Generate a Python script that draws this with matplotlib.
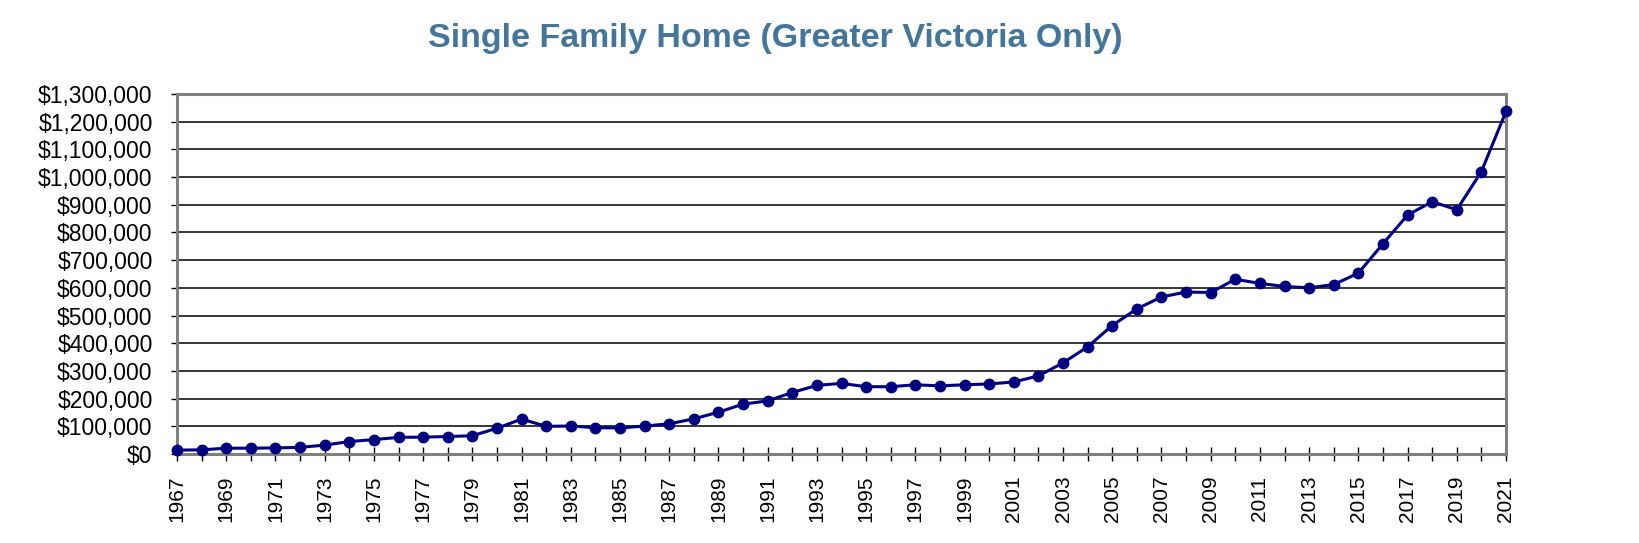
import matplotlib; matplotlib.use("Agg")
import matplotlib.pyplot as plt
from matplotlib.ticker import FuncFormatter

# datos (precio medio, vivienda unifamiliar)
YEARS=list(range(1967,2022))
PRICE=[14000,15000,21000,21000,22000,24000,32000,45000,52000,60000,
       61000,63000,66000,93000,126000,100000,101000,95000,94000,101000,
       109000,127000,151000,180000,192000,222000,248000,255000,243000,243000,
       250000,246000,250000,253000,260000,282000,329000,387000,464000,524000,
       567000,585000,583000,631000,616000,605000,600000,612000,653000,759000,
       863000,911000,882000,1020000,1237000]
YTICKS=list(range(0,1300001,100000))
TITLE="Single Family Home (Greater Victoria Only)"

plt.rcParams["font.family"]=["Liberation Sans","DejaVu Sans"]
fig=plt.figure(figsize=(16.39,5.43),dpi=100)
ax=fig.add_axes([177/1639,1-454/543,(1506-177)/1639,(454-94)/543])

ax.plot(YEARS,PRICE,color="#000080",lw=2.2,marker="o",ms=7.5,clip_on=False,zorder=5)
ax.set_xlim(1967,2021); ax.set_ylim(0,1300000)
ax.set_yticks(YTICKS)
ax.yaxis.set_major_formatter(FuncFormatter(lambda v,p:f"${v:,.0f}"))
ax.set_xticks(YEARS)
ax.set_xticklabels([str(y) if (y-1967)%2==0 else "" for y in YEARS],rotation=90)
ax.grid(axis="y",color="black",lw=1.1)
ax.set_axisbelow(True)
ax.tick_params(axis="y",labelsize=16.5,length=4.5,width=1,pad=13,direction="out")
ax.tick_params(axis="x",labelsize=15,length=9.5,width=1,pad=11,direction="inout")
for s in ax.spines.values():
    s.set_color("#808080"); s.set_linewidth(2.2)

fig.text(0.473,1-47/543,TITLE,ha="center",va="baseline",fontsize=24.5,
         fontweight="bold",color="#43769A")
fig.savefig("out.png",dpi=100)
